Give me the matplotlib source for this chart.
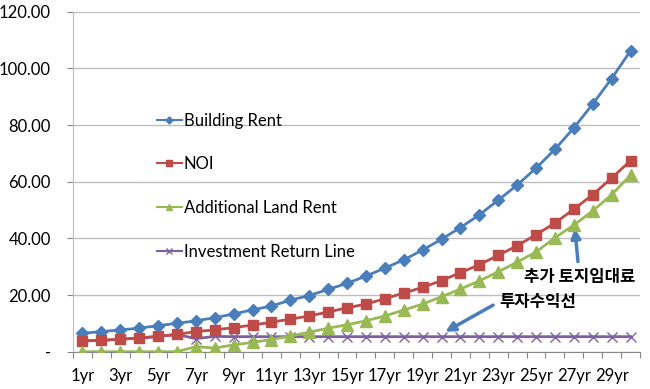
import numpy as np
import matplotlib
matplotlib.use('Agg')
import matplotlib.pyplot as plt

plt.rcParams['font.family'] = ['Lato', 'Noto Sans CJK KR', 'DejaVu Sans']

years = ['%dyr' % i for i in range(1, 31)]

building_rent = [6.5, 7.1, 7.7, 8.3, 9.2, 10.0, 10.9, 12.0, 13.3, 14.8,
                 16.1, 18.2, 19.8, 22.0, 24.1, 26.7, 29.5, 32.4, 35.9, 39.7,
                 43.8, 48.3, 53.5, 58.8, 64.8, 71.4, 79.0, 87.4, 96.4, 106.2]
noi = [3.8, 4.0, 4.4, 4.8, 5.4, 6.1, 7.1, 7.7, 8.5, 9.4,
       10.4, 11.5, 12.6, 14.0, 15.5, 16.8, 18.7, 20.7, 22.7, 25.1,
       27.9, 30.7, 34.0, 37.4, 41.3, 45.4, 50.3, 55.4, 61.3, 67.4]
land_rent = [0, 0, 0, 0, 0, 0, 1.8, 1.3, 2.4, 3.3,
             4.3, 5.5, 6.9, 8.3, 9.5, 10.9, 12.6, 14.7, 16.8, 19.4,
             22.1, 25.0, 28.2, 31.6, 35.2, 40.2, 44.7, 49.7, 55.4, 62.3]
invest_line = [3.8, 4.0, 4.4, 4.8, 5.4, 6.1, 4.6, 5.4, 5.3, 5.3,
               5.3, 5.3, 5.3, 5.3, 5.3, 5.3, 5.3, 5.3, 5.3, 5.3,
               5.3, 5.3, 5.3, 5.3, 5.3, 5.3, 5.3, 5.3, 5.3, 5.3]

yticks = [0, 20, 40, 60, 80, 100, 120]
ytick_labels = ['-', '20.00', '40.00', '60.00', '80.00', '100.00', '120.00']

fig = plt.figure(figsize=(6.5, 3.89), dpi=100)
ax = fig.add_axes([0.1123, 0.0959, 0.8723, 0.8741])

x = np.arange(len(years))
ax.plot(x, building_rent, color='#4A7EBB', lw=2, marker='D', ms=6, label='Building Rent', zorder=4)
ax.plot(x, noi, color='#BE4B48', lw=2, marker='s', ms=7, label='NOI', zorder=4)
ax.plot(x, land_rent, color='#98B954', lw=2, marker='^', ms=8, label='Additional Land Rent', zorder=4)
ax.plot(x, invest_line, color='#7D60A0', lw=2, marker='x', ms=7, mew=1, label='Investment Return Line', zorder=3)

ax.set_xlim(-0.5, len(years) - 0.5)
ax.set_ylim(0, 120)
ax.set_yticks(yticks)
ax.set_yticklabels(ytick_labels)
ax.yaxis.grid(True, color='#BEBEBE', lw=1)
ax.set_axisbelow(True)

# category boundaries get the tick marks, odd years get labels
ax.set_xticks(np.arange(-0.5, len(years), 1.0))
ax.set_xticklabels([])
ax.set_xticks(x[::2], minor=True)
ax.set_xticklabels(years[::2], minor=True)
ax.tick_params(axis='x', which='major', length=4, color='#888888', direction='out')
ax.tick_params(axis='x', which='minor', length=0, pad=12, labelsize=12)
ax.tick_params(axis='y', length=4, color='#888888', pad=12, labelsize=12)

for s in ['top', 'right']:
    ax.spines[s].set_visible(False)
ax.spines['left'].set_color('#BEBEBE')
ax.spines['bottom'].set_color('#888888')

leg = ax.legend(loc='upper left', bbox_to_anchor=(0.148, 0.703), frameon=False, fontsize=12,
                borderaxespad=0, borderpad=0, labelspacing=1.66, handlelength=1.5,
                handletextpad=0.1, markerscale=0.6)
for h in leg.get_lines():
    h.set_linewidth(1.5)

arrow = dict(arrowstyle='-|>', color='#4A7EBB', lw=2.5, mutation_scale=14)
ax.annotate('추가 토지임대료', xy=(26.05, 43.5), xytext=(26.3, 26.2), fontsize=12,
            fontweight='bold', family=['Noto Sans CJK KR'], ha='center', va='center',
            arrowprops=dict(arrow, shrinkA=3, shrinkB=0))
ax.annotate('투자수익선', xy=(19.2, 7.0), xytext=(24.1, 17.7), fontsize=12,
            fontweight='bold', family=['Noto Sans CJK KR'], ha='center', va='center',
            arrowprops=dict(arrow, shrinkA=3, shrinkB=0, relpos=(0, 0.5)))

fig.savefig('out.png', dpi=100)
